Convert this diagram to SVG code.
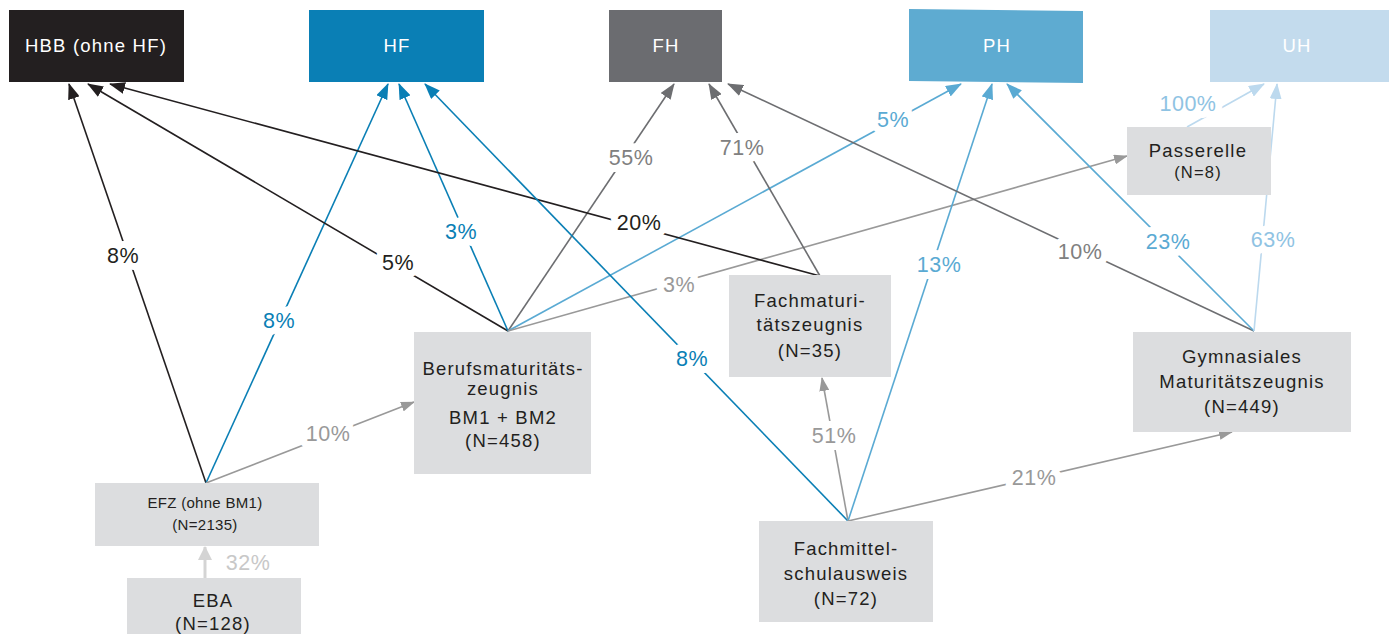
<svg xmlns="http://www.w3.org/2000/svg" width="1389" height="634" viewBox="0 0 1389 634">
<style>
.t{font-family:"Liberation Sans",Arial,sans-serif;font-size:18.5px;letter-spacing:1.2px;text-anchor:middle}
.top{fill:#ffffff}
.n{fill:#231f20}
.box{fill:#dcdddf}
.l{fill:none;stroke-width:1.6}
.lb{font-family:"Liberation Sans",Arial,sans-serif;font-size:21.5px;letter-spacing:0.5px;text-anchor:middle;paint-order:stroke;stroke:#ffffff;stroke-width:14px;stroke-linejoin:round}
.sm{font-size:15px;letter-spacing:0.3px}
</style>
<defs>
<marker id="mk" markerUnits="userSpaceOnUse" markerWidth="16" markerHeight="12" refX="15" refY="6" orient="auto"><path d="M0,0 L16,6 L0,12 z" fill="#231f20"/></marker>
<marker id="mb" markerUnits="userSpaceOnUse" markerWidth="16" markerHeight="12" refX="15" refY="6" orient="auto"><path d="M0,0 L16,6 L0,12 z" fill="#0a7fb5"/></marker>
<marker id="mg" markerUnits="userSpaceOnUse" markerWidth="16" markerHeight="12" refX="15" refY="6" orient="auto"><path d="M0,0 L16,6 L0,12 z" fill="#6d6e71"/></marker>
<marker id="ml" markerUnits="userSpaceOnUse" markerWidth="14" markerHeight="10" refX="13" refY="5" orient="auto"><path d="M0,0 L14,5 L0,10 z" fill="#999999"/></marker>
<marker id="mp" markerUnits="userSpaceOnUse" markerWidth="16" markerHeight="12" refX="15" refY="6" orient="auto"><path d="M0,0 L16,6 L0,12 z" fill="#5aaad3"/></marker>
<marker id="mu" markerUnits="userSpaceOnUse" markerWidth="16" markerHeight="12" refX="15" refY="6" orient="auto"><path d="M0,0 L16,6 L0,12 z" fill="#bcd9ee"/></marker>
<marker id="me" markerUnits="userSpaceOnUse" markerWidth="14" markerHeight="14" refX="13" refY="7" orient="auto"><path d="M0,0 L14,7 L0,14 z" fill="#d4d4d4"/></marker>
</defs>

<g id="connectors">
<line class="l" stroke="#231f20" x1="206" y1="483" x2="69" y2="84" marker-end="url(#mk)"/>
<line class="l" stroke="#0a7fb5" x1="206" y1="483" x2="388" y2="84" marker-end="url(#mb)"/>
<line class="l" stroke="#999999" x1="206" y1="483" x2="414" y2="402" marker-end="url(#ml)"/>
<line stroke="#d4d4d4" stroke-width="3" x1="205" y1="578" x2="205" y2="547" marker-end="url(#me)"/>
<line class="l" stroke="#231f20" x1="508" y1="331" x2="88" y2="84" marker-end="url(#mk)"/>
<line class="l" stroke="#0a7fb5" x1="508" y1="331" x2="399" y2="84" marker-end="url(#mb)"/>
<line class="l" stroke="#6d6e71" x1="508" y1="331" x2="674" y2="84" marker-end="url(#mg)"/>
<line class="l" stroke="#5aaad3" x1="508" y1="331" x2="961" y2="84" marker-end="url(#mp)"/>
<line class="l" stroke="#999999" x1="508" y1="331" x2="1127" y2="156" marker-end="url(#ml)"/>
<line class="l" stroke="#231f20" x1="820" y1="276" x2="110" y2="84" marker-end="url(#mk)"/>
<line class="l" stroke="#6d6e71" x1="820" y1="276" x2="709" y2="84" marker-end="url(#mg)"/>
<line class="l" stroke="#0a7fb5" x1="848" y1="521" x2="425" y2="84" marker-end="url(#mb)"/>
<line class="l" stroke="#999999" x1="848" y1="521" x2="822" y2="378" marker-end="url(#ml)"/>
<line class="l" stroke="#5aaad3" x1="848" y1="521" x2="992" y2="84" marker-end="url(#mp)"/>
<line class="l" stroke="#999999" x1="848" y1="521" x2="1232" y2="432" marker-end="url(#ml)"/>
<line class="l" stroke="#6d6e71" x1="1254" y1="331" x2="728" y2="84" marker-end="url(#mg)"/>
<line class="l" stroke="#5aaad3" x1="1254" y1="331" x2="1007" y2="84" marker-end="url(#mp)"/>
<line class="l" stroke="#bcd9ee" x1="1254" y1="331" x2="1277" y2="84" marker-end="url(#mu)"/>
<line class="l" stroke="#bcd9ee" x1="1187" y1="127" x2="1264" y2="84" marker-end="url(#mu)"/>

<text class="lb" fill="#231f20" x="123" y="263">8%</text>
<text class="lb" fill="#0a7fb5" x="279" y="328">8%</text>
<text class="lb" fill="#999999" x="328" y="441">10%</text>
<text class="lb" fill="#c8c8c8" x="248" y="570">32%</text>
<text class="lb" fill="#231f20" x="398" y="270">5%</text>
<text class="lb" fill="#0a7fb5" x="461" y="239">3%</text>
<text class="lb" fill="#808080" x="631" y="165">55%</text>
<text class="lb" fill="#5aaad3" x="893" y="127">5%</text>
<text class="lb" fill="#999999" x="679" y="292">3%</text>
<text class="lb" fill="#231f20" x="639" y="230">20%</text>
<text class="lb" fill="#808080" x="742" y="155">71%</text>
<text class="lb" fill="#0a7fb5" x="692" y="366">8%</text>
<text class="lb" fill="#999999" x="834" y="443">51%</text>
<text class="lb" fill="#5aaad3" x="939" y="272">13%</text>
<text class="lb" fill="#999999" x="1034" y="485">21%</text>
<text class="lb" fill="#808080" x="1080" y="259">10%</text>
<text class="lb" fill="#5aaad3" x="1168" y="249">23%</text>
<text class="lb" fill="#8fc3e3" x="1273" y="247">63%</text>
<text class="lb" fill="#8fc3e3" x="1188" y="111">100%</text>
</g>

<g id="HBB"><rect x="9" y="10" width="175" height="72" fill="#231f20"/><text class="t top" x="96" y="52">HBB (ohne HF)</text></g>
<g id="HF"><rect x="309" y="10" width="175" height="72" fill="#0a7fb5"/><text class="t top" x="397" y="52">HF</text></g>
<g id="FH"><rect x="609" y="10" width="113" height="72" fill="#6b6c70"/><text class="t top" x="666" y="52">FH</text></g>
<g id="PH"><polygon points="909,9 1083,11 1083,83 909,81" fill="#5eabd1"/><text class="t top" x="997" y="52">PH</text></g>
<g id="UH"><rect x="1210" y="10" width="179" height="72" fill="#c3dbed"/><text class="t top" x="1297" y="52">UH</text></g>

<g id="Passerelle"><rect class="box" x="1127" y="127" width="144" height="68"/><text class="t n" x="1198" y="157">Passerelle</text><text class="t n" x="1198" y="178" style="font-size:16.5px">(N=8)</text></g>
<g id="Berufsmat"><rect class="box" x="414" y="332" width="177" height="142"/>
<text class="t n" x="503" y="375">Berufsmaturitäts-</text><text class="t n" x="503" y="395">zeugnis</text><text class="t n" x="503" y="424">BM1 + BM2</text><text class="t n" x="503" y="447">(N=458)</text></g>
<g id="Fachmaturi"><rect class="box" x="729" y="275" width="162" height="102"/>
<text class="t n" x="810" y="307">Fachmaturi-</text><text class="t n" x="810" y="331">tätszeugnis</text><text class="t n" x="810" y="357">(N=35)</text></g>
<g id="Fachmittel"><rect class="box" x="759" y="521" width="174" height="101"/>
<text class="t n" x="846" y="555">Fachmittel-</text><text class="t n" x="846" y="580">schulausweis</text><text class="t n" x="846" y="605">(N=72)</text></g>
<g id="Gymnasiales"><rect class="box" x="1133" y="332" width="218" height="100"/>
<text class="t n" x="1242" y="363">Gymnasiales</text><text class="t n" x="1242" y="388">Maturitätszeugnis</text><text class="t n" x="1242" y="413">(N=449)</text></g>
<g id="EFZ"><rect class="box" x="95" y="483" width="224" height="63"/>
<text class="t n sm" x="205" y="508">EFZ (ohne BM1)</text><text class="t n sm" x="205" y="530">(N=2135)</text></g>
<g id="EBA"><rect class="box" x="127" y="578" width="174" height="56"/>
<text class="t n" x="213" y="607">EBA</text><text class="t n" x="213" y="630">(N=128)</text></g>
</svg>
